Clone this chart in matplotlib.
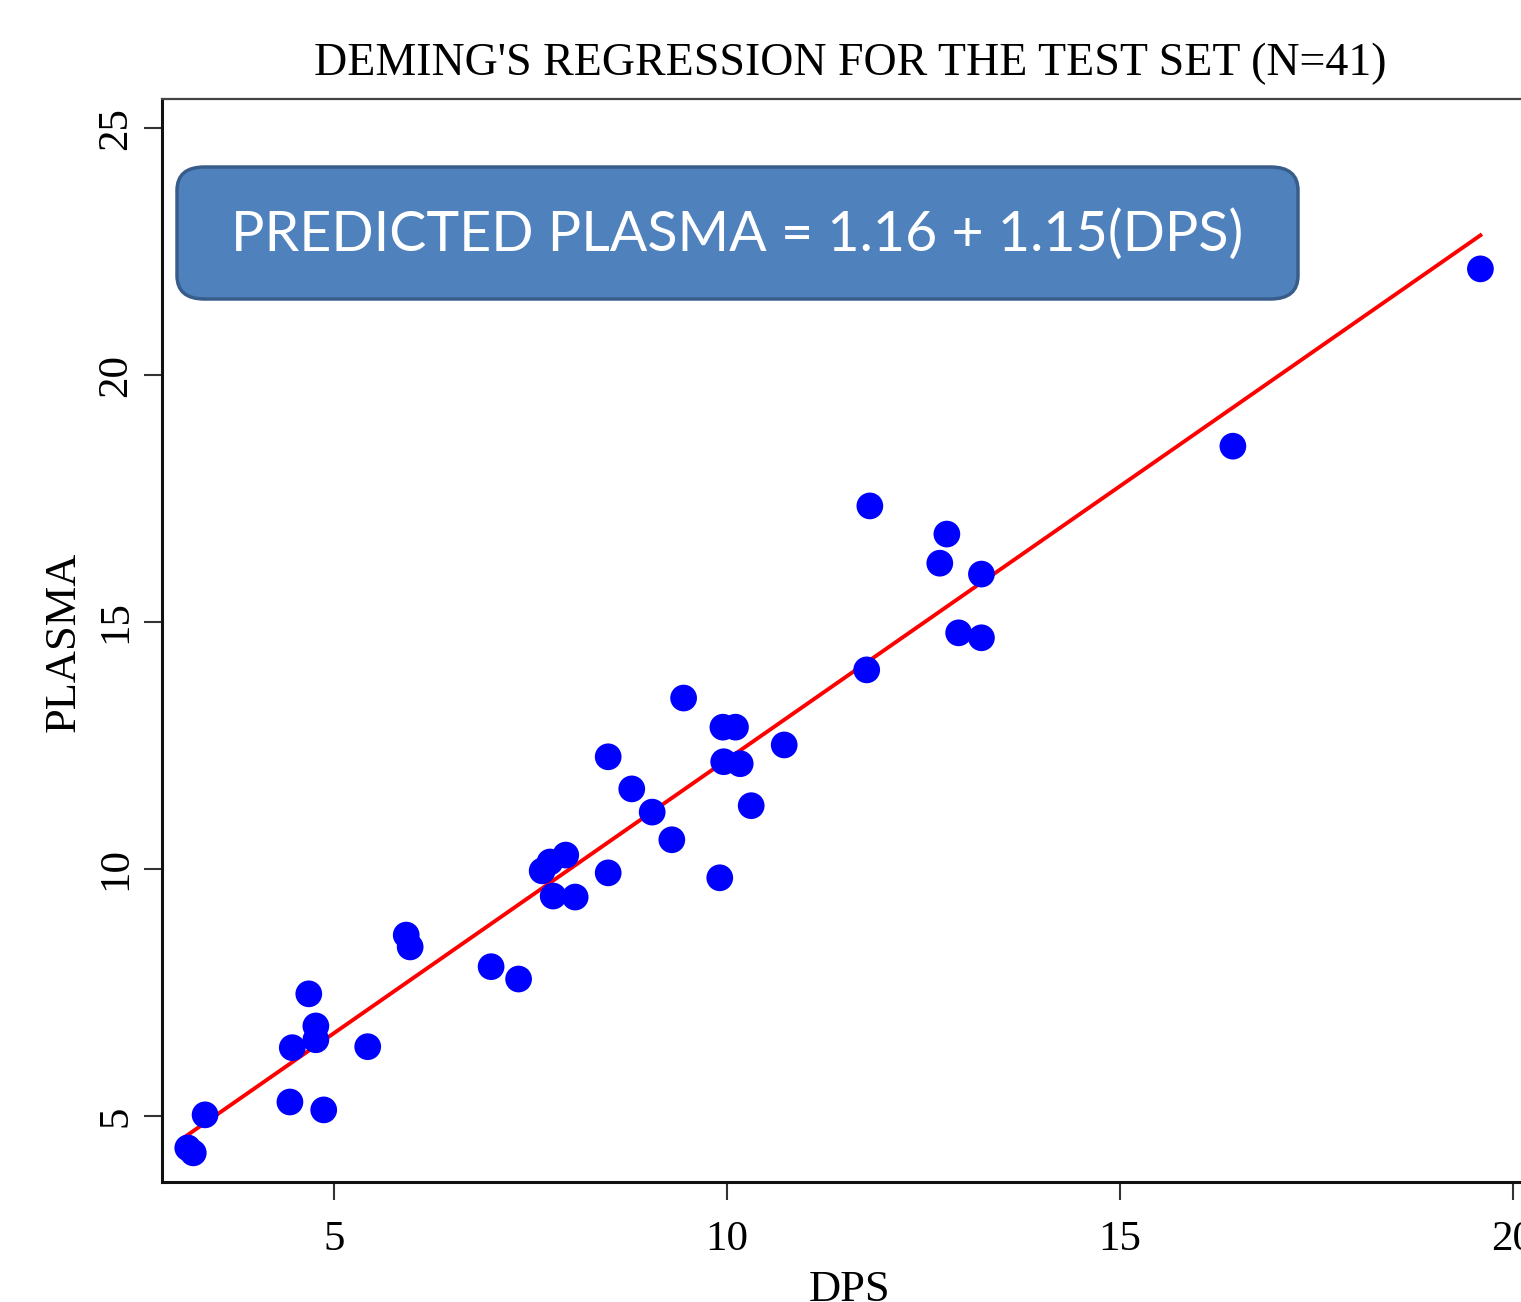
import matplotlib
matplotlib.use("Agg")
import matplotlib.pyplot as plt
from matplotlib.patches import FancyBboxPatch

# Data
dps = [3.14, 3.21, 3.36, 4.44, 4.47, 4.68, 4.77, 4.77, 4.87, 5.43,
       5.92, 5.97, 7.00, 7.35, 7.65, 7.75, 7.79, 7.95, 8.07, 8.49,
       8.49, 8.79, 9.05, 9.30, 9.45, 9.91, 9.95, 10.11, 9.96, 10.17,
       10.31, 10.73, 11.78, 11.82, 12.71, 12.80, 12.95, 13.24, 13.24, 16.44,
       19.59]
plasma = [4.35, 4.25, 5.02, 5.28, 6.38, 7.47, 6.82, 6.54, 5.12, 6.40,
          8.66, 8.42, 8.02, 7.77, 9.96, 10.14, 9.45, 10.28, 9.43, 9.92,
          12.27, 11.62, 11.15, 10.59, 13.46, 9.82, 12.87, 12.87, 12.17, 12.13,
          11.28, 12.51, 14.03, 17.35, 16.19, 16.78, 14.78, 15.97, 14.68, 18.56,
          22.15]
fit_x = [3.10, 19.59]
fit_y = [4.57, 22.83]
xticks = [5, 10, 15, 20]
yticks = [5, 10, 15, 20, 25]
title = "DEMING'S REGRESSION FOR THE TEST SET (N=41)"
equation = "PREDICTED PLASMA = 1.16 + 1.15(DPS)"

W, H = 1521, 1302
fig = plt.figure(figsize=(W / 100, H / 100), dpi=100)
serif = "Liberation Serif"

# axes placement (pixels)
left_px, right_px, top_px, bottom_px = 162, 1537, 99, 1182
ax = fig.add_axes([left_px / W, (H - bottom_px) / H,
                   (right_px - left_px) / W, (bottom_px - top_px) / H])
ax.set_xlim(2.812, 20.31)
ax.set_ylim(3.66, 25.59)

ax.plot(fit_x, fit_y, color="#ff0000", lw=2.8, zorder=2)
ax.scatter(dps, plasma, s=370, color="#0000ff", edgecolors="none", zorder=3)

ax.set_xticks(xticks)
ax.set_yticks(yticks)
ax.set_xticklabels([str(v) for v in xticks], fontfamily=serif, fontsize=31)
ax.set_yticklabels([str(v) for v in yticks], fontfamily=serif, fontsize=31,
                   rotation=90, va="center")
ax.tick_params(axis="both", length=13, width=1.5, color="#333333")
ax.tick_params(axis="x", pad=15)
ax.tick_params(axis="y", pad=6)

for side in ["left", "bottom"]:
    ax.spines[side].set_linewidth(2.2)
    ax.spines[side].set_color("#111111")
ax.spines["top"].set_linewidth(1.6)
ax.spines["top"].set_color("#444444")
ax.spines["right"].set_linewidth(1.6)

fig.text(850 / W, 1 - 64 / H, title, fontfamily=serif, fontsize=33,
         ha="center", va="center")
fig.text(64 / W, 1 - 642 / H, "PLASMA", fontfamily=serif, fontsize=32,
         rotation=90, ha="center", va="center")
fig.text(850 / W, 1 - 1290 / H, "DPS", fontfamily=serif, fontsize=32,
         ha="center", va="center")

# equation box (figure pixel coordinates)
bx0, by0, bx1, by1 = 177, 167, 1298, 299
box = FancyBboxPatch((bx0 / W, 1 - by1 / H), (bx1 - bx0) / W, (by1 - by0) / H,
                     boxstyle="round,pad=0,rounding_size=0.018",
                     transform=fig.transFigure, facecolor="#4f81bd",
                     edgecolor="#385d8a", linewidth=2.5, zorder=5)
fig.add_artist(box)
fig.text(737 / W, 1 - 235 / H, equation, fontfamily="Lato", fontsize=40,
         color="white", ha="center", va="center", zorder=6)

fig.savefig("out.png", dpi=100)
